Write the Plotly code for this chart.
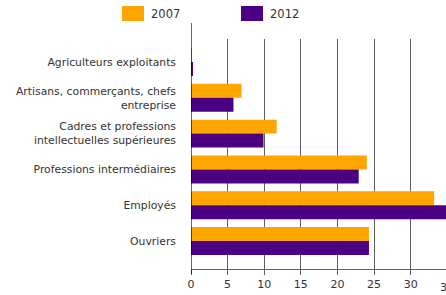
import plotly.graph_objects as go

categories = [
    "Agriculteurs exploitants",
    "Artisans, commerçants, chefs<br>entreprise",
    "Cadres et professions<br>intellectuelles supérieures",
    "Professions intermédiaires",
    "Employés",
    "Ouvriers",
]
values_2007 = [0.1, 6.9, 11.7, 24.0, 33.2, 24.3]
values_2012 = [0.25, 5.8, 9.9, 22.9, 35.5, 24.3]
series_names = ["2007", "2012"]
x_ticks = [0, 5, 10, 15, 20, 25, 30, 35]

W, H = 446, 295
L, R, T, B = 191, 0, 39, 26
XMAX = 34.82
COL_2007 = "#FFA500"
COL_2012 = "#4B0082"

fig = go.Figure()
fig.add_trace(go.Bar(y=categories, x=values_2007, name=series_names[0], orientation="h",
                     marker=dict(color=COL_2007, line=dict(width=0))))
fig.add_trace(go.Bar(y=categories, x=values_2012, name=series_names[1], orientation="h",
                     marker=dict(color=COL_2012, line=dict(width=0))))

pw = W - L - R
ph = H - T - B
def px_x(p):
    return (p - L) / pw
def px_y(p):
    return 1 - (p - T) / ph

shapes = []
# vertical axis line at zero, extending above the plot
shapes.append(dict(type="line", xref="x", yref="paper", x0=0, x1=0,
                   y0=px_y(274), y1=px_y(23), line=dict(color="black", width=1.2)))
# legend boxes
shapes.append(dict(type="rect", xref="paper", yref="paper", x0=px_x(122), x1=px_x(144),
                   y0=px_y(21), y1=px_y(6), fillcolor=COL_2007, line=dict(width=0)))
shapes.append(dict(type="rect", xref="paper", yref="paper", x0=px_x(241), x1=px_x(263),
                   y0=px_y(21), y1=px_y(6), fillcolor=COL_2012, line=dict(width=0)))

annotations = [
    dict(text=series_names[0], xref="paper", yref="paper", x=px_x(149), y=px_y(14),
         xanchor="left", yanchor="middle", showarrow=False,
         font=dict(size=11.5, color="#333333")),
    dict(text=series_names[1], xref="paper", yref="paper", x=px_x(268), y=px_y(14),
         xanchor="left", yanchor="middle", showarrow=False,
         font=dict(size=11.5, color="#333333")),
    # last tick label, partly outside the visible range
    dict(text=str(x_ticks[-1]), xref="paper", yref="paper", x=x_ticks[-1] / XMAX, y=px_y(287),
         xanchor="center", yanchor="middle", showarrow=False,
         font=dict(size=11, color="#333333")),
]

fig.update_layout(
    width=W, height=H,
    margin=dict(l=L, r=R, t=T, b=B, pad=0),
    paper_bgcolor="white", plot_bgcolor="white",
    barmode="group", bargap=0.22, bargroupgap=0,
    showlegend=False,
    font=dict(family="DejaVu Sans", color="#333333"),
    shapes=shapes, annotations=annotations,
)
fig.update_xaxes(
    range=[0, XMAX], tickvals=x_ticks, showgrid=True, gridcolor="#5f5f5f", gridwidth=1,
    zeroline=False, showline=True, linecolor="#5a5aa8", linewidth=1.3,
    ticks="outside", ticklen=5, tickcolor="#5f5f5f", tickwidth=1,
    tickfont=dict(size=11, color="#333333"),
)
fig.update_yaxes(
    categoryorder="array", categoryarray=categories,
    range=[5.78, -0.642], showgrid=False, zeroline=False, showline=False,
    ticks="", ticklabelstandoff=14, tickfont=dict(size=10.8, color="#333333"),
)

fig.write_html("out.html",
               config={"displayModeBar": False},
               post_script="document.body.style.margin='0px';document.body.style.overflow='hidden';")
